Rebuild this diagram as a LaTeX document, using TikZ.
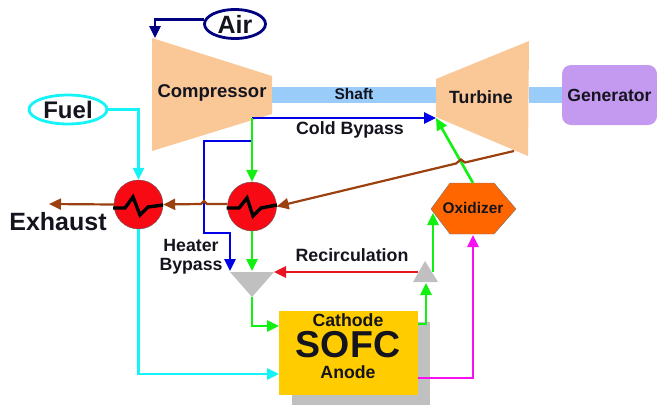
\documentclass[tikz,border=0pt]{standalone}
\usepackage{fontspec}
\setmainfont{Liberation Sans}
\usetikzlibrary{arrows.meta,positioning,shapes.geometric}
\definecolor{ink}{HTML}{14141E}
\definecolor{peach}{HTML}{F9C896}
\definecolor{shaftblue}{HTML}{99CCF8}
\definecolor{genviolet}{HTML}{C49AF0}
\definecolor{stackgold}{HTML}{FFCC00}
\definecolor{greybox}{HTML}{C0C0C0}
\definecolor{oxorange}{HTML}{FF6600}
\definecolor{airnavy}{HTML}{000080}
\definecolor{bypassblue}{HTML}{0000E6}
\definecolor{airgreen}{HTML}{11F011}
\definecolor{exhaustbrown}{HTML}{9C4010}
\definecolor{recired}{HTML}{E8141E}
\definecolor{fuelcyan}{HTML}{14F4F8}
\definecolor{anodepink}{HTML}{F810F0}
\definecolor{hxred}{HTML}{F80A14}
\newcommand{\lbl}[1]{\fontsize{#1}{#1}\selectfont\bfseries}
\tikzset{
  flow/.style={line width=2.6pt,-{Triangle[length=12pt,width=11pt]}},
  hxer/.style={circle,draw=ink!70,fill=hxred,minimum size=49pt,inner sep=0pt},
  inlet/.style={ellipse,line width=2.8pt,fill=white,inner sep=0pt},
  tag/.style={text=ink,inner sep=0pt,align=center},
}
\begin{document}
\begin{tikzpicture}[x=1pt,y=-1pt]
\useasboundingbox (0,0) rectangle (657,405);
% shaft behind the machines
\fill[shaftblue] (272,87) rectangle (436,103);
\fill[shaftblue] (529,87) rectangle (562,103);
\fill[peach] (152,38)--(272,76)--(272,114)--(152,151)--cycle;
\fill[peach] (436,79)--(529,41)--(528,156)--(436,117)--cycle;
\node[tag] (compressor) at (212,93) {\lbl{18.5}Compressor};
\node[tag] (turbine) at (481,97) {\lbl{17.7}Turbine};
\node[tag] at (354,94) {\lbl{15.5}Shaft};
\node[fill=genviolet,rounded corners=9pt,minimum width=95pt,minimum height=60pt,inner sep=0pt] (generator) at (609.5,95) {\color{ink}\lbl{17.6}Generator};
% inlets
\node[inlet,draw=airnavy,minimum width=61pt,minimum height=29pt] (air) at (235,24) {\color{ink}\lbl{25}Air};
\node[inlet,draw=fuelcyan,minimum width=78pt,minimum height=29pt] (fuel) at (68,109.5) {\color{ink}\lbl{24}Fuel};
% stack
\fill[greybox] (292,322) rectangle (430,405);
\node[fill=stackgold,minimum width=139pt,minimum height=84pt,inner sep=0pt] (sofc) at (348.5,353) {};
\node[tag] at (348,320) {\lbl{17.7}Cathode};
\node[tag] at (348,345) {\lbl{37.5}SOFC};
\node[tag] at (348,372) {\lbl{17.7}Anode};
% oxidizer and the two grey junctions
\fill[oxorange,draw=ink!60] (431,209)--(450,183)--(494,183)--(516,209)--(494,234)--(450,234)--cycle;
\node[tag] (oxidizer) at (473,208) {\lbl{15.4}Oxidizer};
\fill[greybox] (230,272)--(274,272)--(252,297)--cycle;
\fill[greybox] (425,261)--(438,282)--(413,282)--cycle;
\coordinate (mixin) at (252,271);
\coordinate (mixright) at (274,272);
\coordinate (mixout) at (252,297);
\coordinate (splitin) at (426,283);
\coordinate (splitleft) at (418,272);
\coordinate (split) at (433,272);
\coordinate (turbin) at (436,118);
\coordinate (comptop) at (155,38);
\coordinate (compout) at (252,118);
\coordinate (tap) at (252,141);
\coordinate (turbout) at (514,151);
\coordinate (oxin) at (433,213);
\coordinate (oxtop) at (473,183);
\coordinate (oxbot) at (473,235);
\coordinate (stackin) at (279,326);
\coordinate (anodein) at (279,374);
\coordinate (cathout) at (418,324);
\coordinate (anodeout) at (418,378);
\coordinate (exhaust) at (49,204);
% heat exchangers
\node[hxer] (hxa) at (138.5,204.5) {};
\node[hxer] (hxb) at (252,206.5) {};
\draw[line width=3.4pt] (113,208)--(125,208)--(133,197)--(140,215)--(148,207)--(163,205);
\draw[line width=3.4pt] (226.5,208)--(239,208)--(247,198)--(253,216)--(261,208)--(277,205);
% air side
\draw[flow,airnavy] (air.172) -| (comptop);
\draw[flow,bypassblue] (compout) -- (turbin);
\draw[flow,bypassblue] (tap) -- (204,141) -- (204,233) -- (230,233) -- (230,271);
\draw[flow,airgreen] (compout) -- (hxb.north);
\draw[flow,airgreen] (hxb.south) -- (mixin);
\draw[flow,airgreen] (mixout) -- (252,326) -- (stackin);
\draw[flow,airgreen] (cathout) -- (426,324) -- (splitin);
\draw[flow,airgreen] (split) -- (oxin);
\draw[flow,airgreen] (oxtop) -- (turbin);
\draw[flow,recired] (splitleft) -- (mixright);
% fuel side
\draw[flow,fuelcyan] (fuel.east) -| (hxa.north);
\draw[flow,fuelcyan] (hxa.south) |- (anodein);
\draw[flow,anodepink] (anodeout) -| (oxbot);
% exhaust gas, hopping over the lines it crosses
\draw[flow,exhaustbrown,line width=2.2pt] (turbout) -- (465,162.5) -- (461,159.5) -- (456,163.5) -- (hxb.east);
\draw[flow,exhaustbrown,line width=2.2pt] (hxb.174) -- (207,204) -- (204,201) -- (201,204) -- (hxa.east);
\draw[flow,exhaustbrown,line width=2.2pt] (hxa.west) -- (exhaust);
% labels
\node[tag] at (350,130) {\lbl{17.8}Cold Bypass};
\node[tag] at (191,257) {\lbl{17.7}Heater\\[6pt]\lbl{17.7}Bypass};
\node[tag] at (352,255) {\lbl{17.8}Recirculation};
\node[tag] at (58,222) {\lbl{25}Exhaust};
\end{tikzpicture}
\end{document}
